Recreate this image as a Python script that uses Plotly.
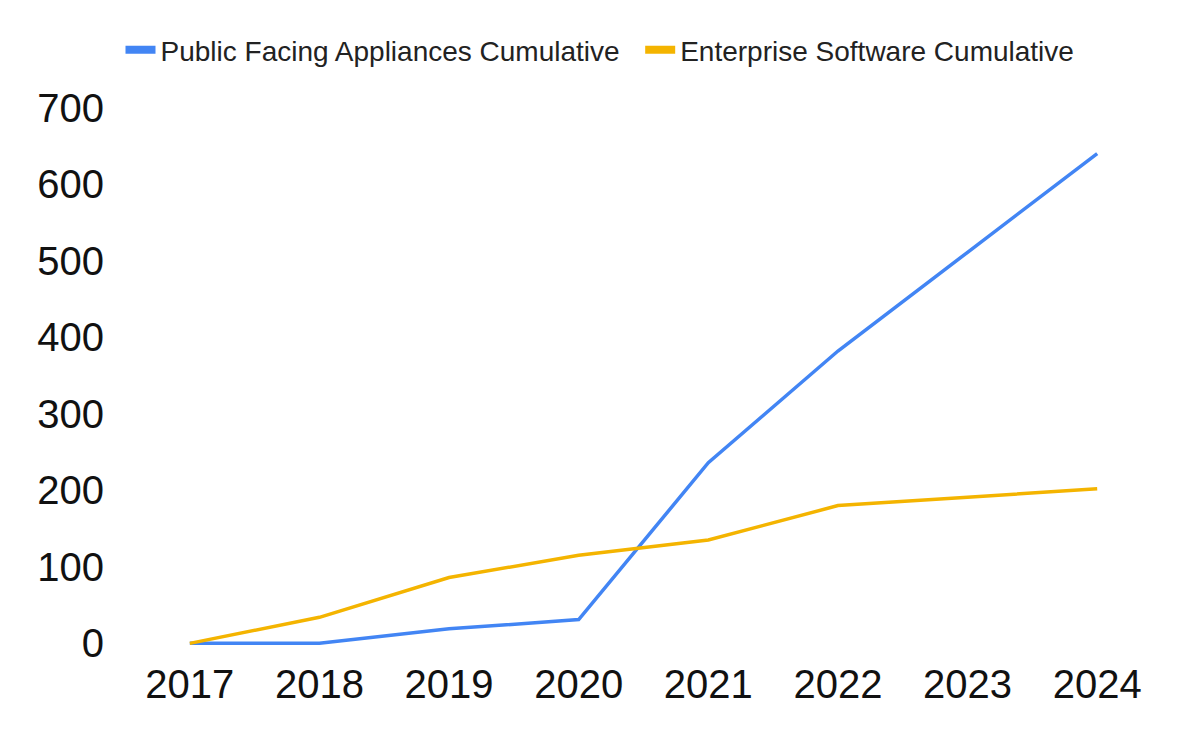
import plotly.graph_objects as go

years = ["2017", "2018", "2019", "2020", "2021", "2022", "2023", "2024"]
public_facing = [0, 0, 19, 31, 236, 382, 511, 640]
enterprise_sw = [0, 34, 86, 115, 135, 180, 191, 202]
y_ticks = [0, 100, 200, 300, 400, 500, 600, 700]

BLUE = "#4285F4"
YELLOW = "#F4B400"
FONT = "Arial, Liberation Sans, sans-serif"

fig = go.Figure()
fig.add_trace(go.Scatter(x=years, y=public_facing, mode="lines",
                         line=dict(color=BLUE, width=3.5), showlegend=False,
                         name="Public Facing Appliances Cumulative"))
fig.add_trace(go.Scatter(x=years, y=enterprise_sw, mode="lines",
                         line=dict(color=YELLOW, width=3.5), showlegend=False,
                         name="Enterprise Software Cumulative"))
# legend proxies
fig.add_trace(go.Scatter(x=[None], y=[None], mode="lines",
                         line=dict(color=BLUE, width=8),
                         name="Public Facing Appliances Cumulative\u00a0\u00a0"))
fig.add_trace(go.Scatter(x=[None], y=[None], mode="lines",
                         line=dict(color=YELLOW, width=8),
                         name="Enterprise Software Cumulative"))

fig.update_layout(
    width=1200, height=742,
    margin=dict(l=125, r=38, t=100.4, b=91.4, pad=0),
    paper_bgcolor="white", plot_bgcolor="white",
    font=dict(family=FONT, color="#222222"),
    showlegend=True,
    legend=dict(orientation="h", xref="container", yref="container",
                x=0.5, xanchor="center", y=1 - 50 / 742, yanchor="middle",
                font=dict(size=28, color="#222222"), itemwidth=30,
                bgcolor="rgba(0,0,0,0)"),
    xaxis=dict(type="category", range=[-0.5, 7.5], showgrid=False,
               zeroline=False, showline=False, ticks="",
               tickfont=dict(size=40, color="#111111", family=FONT),
               ticklabelstandoff=6),
    yaxis=dict(range=[-10, 710], tickvals=y_ticks, showgrid=False,
               zeroline=False, showline=False, ticks="",
               tickfont=dict(size=40, color="#111111", family=FONT),
               ticklabelstandoff=20),
)

fig.write_html("out.html")
